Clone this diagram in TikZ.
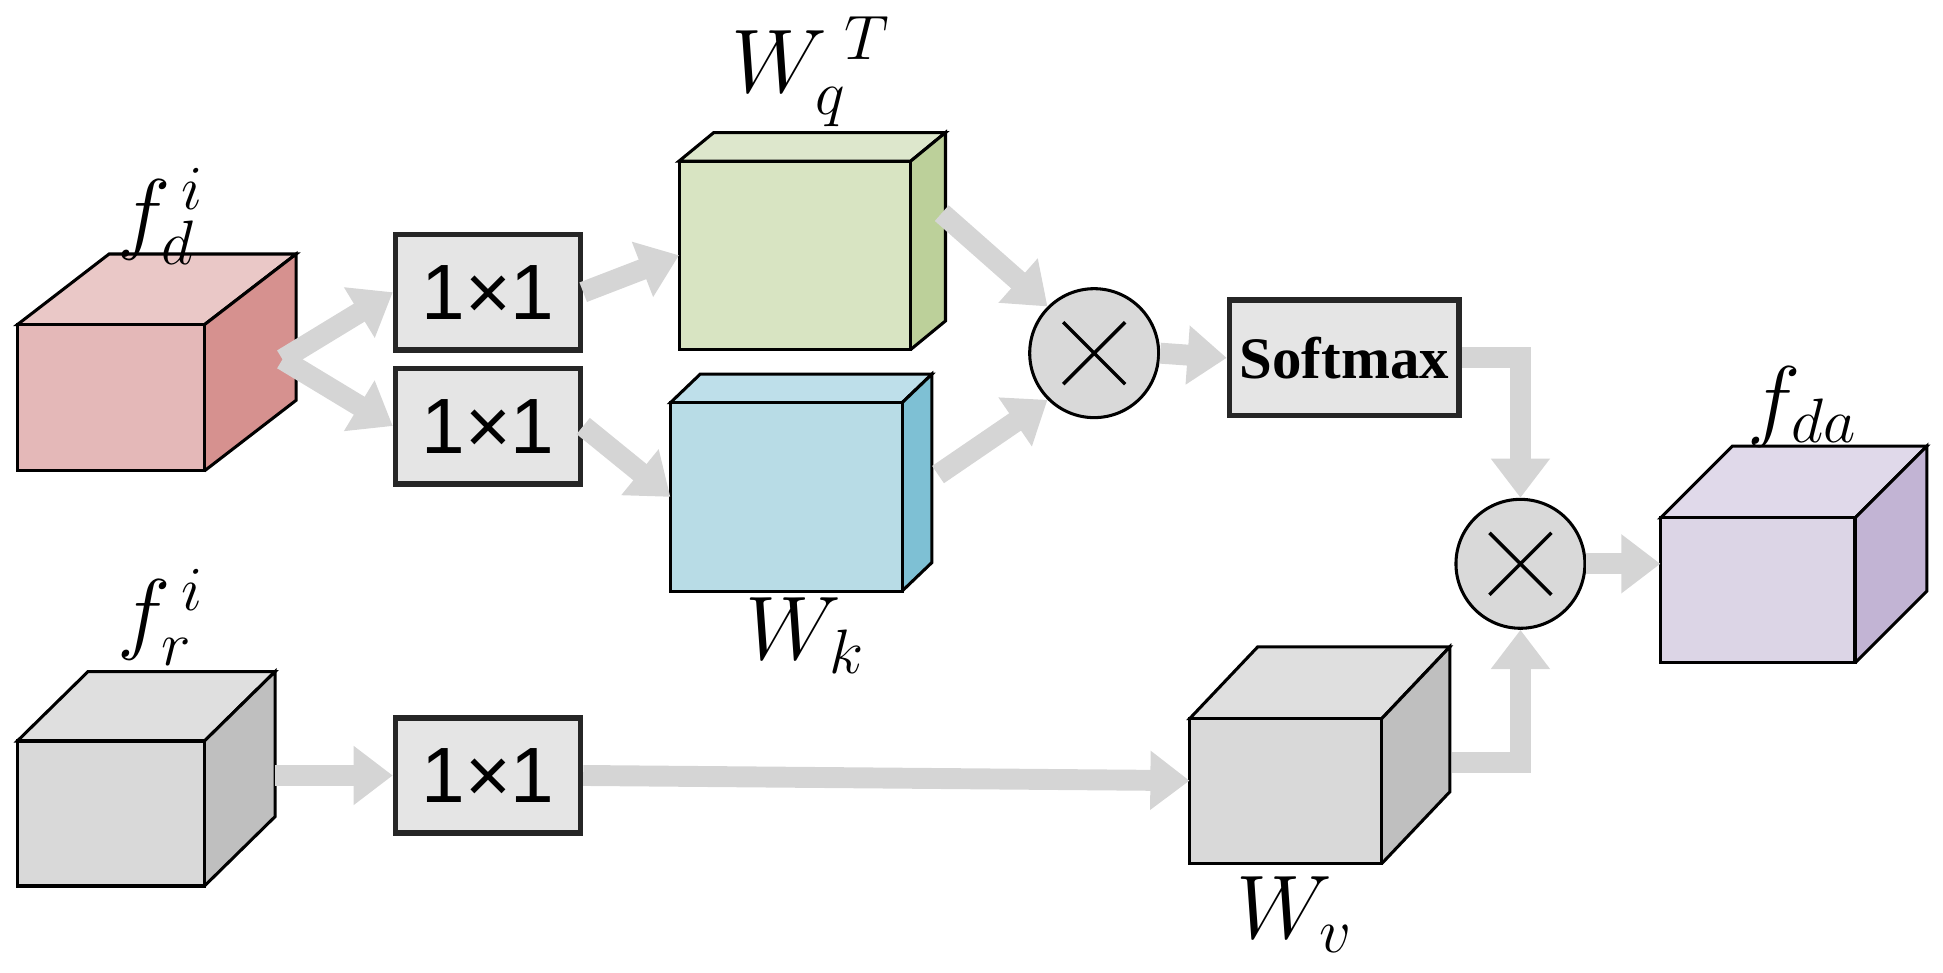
\documentclass[tikz,border=0pt]{standalone}
\usepackage{fontspec}
\setmainfont{Liberation Serif}
\newfontfamily\sansf{Liberation Sans}
\usetikzlibrary{arrows.meta}
\definecolor{pinkF}{HTML}{E4B8B8}\definecolor{pinkT}{HTML}{EFD9D9}\definecolor{pinkS}{HTML}{D6918F}
\definecolor{grnF}{HTML}{D8E4C2}\definecolor{grnT}{HTML}{E8EEDC}\definecolor{grnS}{HTML}{BCD09A}
\definecolor{bluF}{HTML}{B8DCE6}\definecolor{bluT}{HTML}{D5EAF0}\definecolor{bluS}{HTML}{7EC0D4}
\definecolor{gryF}{HTML}{D9D9D9}\definecolor{gryT}{HTML}{E8E8E8}\definecolor{gryS}{HTML}{BFBFBF}
\definecolor{purF}{HTML}{DCD5E6}\definecolor{purT}{HTML}{E8E4EE}\definecolor{purS}{HTML}{C2B4D4}
\newcommand\mycube[9]{%
 \filldraw[fill=#9!50!white, draw=black, line width=0.7pt] (#2,#3) -- ++(#6,-#7) -- ++(#4,0) -- ++(-#6,#7) -- cycle;
 \fill[#9] (#2+#4,#3) -- ++(#6,-#7) -- ++(0,#5) -- ++(-#6,#7) -- cycle;
 \draw[line width=0.7pt] (#2+#4,#3) -- ++(#6,-#7) -- ++(0,#5) -- ++(-#6,#7);
 \node[draw, line width=0.7pt, fill=#8, anchor=north west, inner sep=0, outer sep=0,
   minimum width={#4*0.01cm}, minimum height={#5*0.01cm}] (#1) at (#2,#3) {};}
\tikzset{
 box/.style={draw=black!85, line width=1.3pt, fill=gray!20, minimum width=1.49cm, minimum height=0.93cm, inner sep=0},
 mul/.style={circle, draw=black, line width=0.7pt, fill=gryF, minimum size=1.04cm, inner sep=0},
 fat/.style={draw=gray!33, line width=4.8pt, -{Triangle[width=13pt,length=9pt]}},
 lab/.style={font=\fontsize{22}{26}\selectfont, inner sep=0},
 one/.style={font=\sansf\fontsize{18}{22}\selectfont}
}
\begin{document}
\begin{tikzpicture}[x=0.01cm,y=-0.01cm]
\useasboundingbox (0,0) rectangle (1568,785);
\mycube{fd}{14}{262}{151}{118}{74}{57}{pinkF}{pinkS}
\mycube{fr}{14}{598}{151}{117}{57}{56}{gryF}{gryS}
\mycube{wq}{548}{130}{187}{152}{28}{23}{grnF}{grnS}
\mycube{wk}{541}{325}{187}{152}{24}{23}{bluF}{bluS}
\mycube{wv}{960}{580}{155}{117}{55}{58}{gryF}{gryS}
\mycube{fda}{1340}{418}{157}{117}{58}{58}{purF}{purS}
\node[box, one, anchor=north west] (c1) at (317,187) {1×1};
\node[box, one, anchor=north west] (c2) at (317,295) {1×1};
\node[box, one, anchor=north west] (c3) at (317,577) {1×1};
\node[box, anchor=north west, minimum width=1.85cm] (sm) at (990,240) {\bfseries\fontsize{13.5}{16}\selectfont Softmax};
\node[mul] (m1) at (883,285) {};
\node[mul] (m2) at (1227,455) {};
\foreach \m in {m1,m2}{\draw[line width=0.8pt] (\m.center) +(-25,-25) -- +(25,25) (\m.center) +(-25,25) -- +(25,-25);}
\node[lab] (lfd) at (130,175) {$f_d^{\,i}$};
\node[lab] (lfr) at (130,498) {$f_r^{\,i}$};
\node[lab] (lwq) at (655,58) {$W_q^{\;T}$};
\node[lab] (lwk) at (650,513) {$W_k$};
\node[lab] (lwv) at (1045,738) {$W_v$};
\node[lab] (lfda) at (1455,328) {$f_{da}$};
\coordinate (s1) at (228,290);
\draw[fat] (s1) -- (c1.west);
\draw[fat] (s1) -- (c2.west);
\draw[fat] (c1.east) -- (wq.west);
\draw[fat] (c2.east) -- (wk.west);
\draw[fat] (760,172) -- (m1.north west);
\draw[fat] (757,383) -- (m1.south west);
\draw[fat] (m1.east) -- (sm.west);
\draw[fat] (sm.east) -| (m2.north);
\draw[fat] (m2.east) -- (fda.west |- m2.east);
\draw[fat] (fr.east |- c3.west) ++(57,0) -- (c3.west);
\draw[fat] (c3.east) -- (wv.west |- 0,630);
\draw[fat] (1172,615) -| (m2.south);
\end{tikzpicture}
\end{document}
